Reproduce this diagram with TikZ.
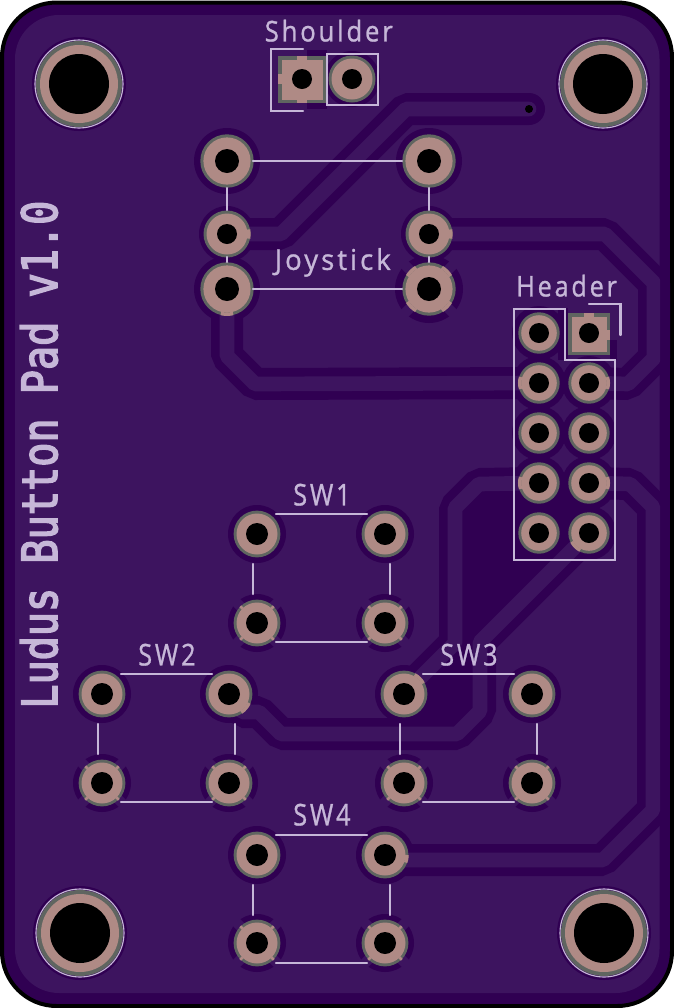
\documentclass[tikz,border=0pt]{standalone}
\usepackage{fontspec}
\setmainfont{Open Sans}
\newfontfamily\silkf[LetterSpace=11,FakeBold=1]{Open Sans}
\newfontfamily\monof[FakeBold=3.5]{DejaVu Sans Mono}
\definecolor{cdark}{HTML}{300052}
\definecolor{cpour}{HTML}{3D145F}
\definecolor{csilk}{HTML}{C6B7D8}
\definecolor{cpadc}{HTML}{AF8A85}
\definecolor{cring}{HTML}{5F6560}
\tikzset{
  silk/.style={draw=csilk,line width=1.7pt,line cap=round,line join=miter},
  tracebed/.style={draw=cdark,line width=24pt,line cap=round,line join=bevel},
  tracetop/.style={draw=cpour,line width=11pt,line cap=round,line join=bevel},
  lab/.style={anchor=south west,inner sep=0pt,text=csilk},
}
% pad: name, outer, inner, hole
\newcommand{\rpad}[4]{%
  \fill[cring] (#1) circle[radius=#2];
  \fill[cpadc] (#1) circle[radius=#3];
  \fill[black] (#1) circle[radius=#4];}
% ring gap: name, angle, half span, radius
\newcommand{\gapr}[4]{%
  \draw[cpadc,line width=2.6pt,line cap=butt] ([shift={(#2-#3:#4)}]#1) arc[start angle=#2-#3,end angle=#2+#3,radius=#4];}
% thermal relief: name, clearance radius
\newcommand{\thermal}[2]{%
  \fill[cdark] (#1) circle[radius=#2];
  \foreach \a in {45,135,225,315} {%
    \draw[cpour,line width=7.5pt,line cap=butt] (#1) -- ([shift={(\a:#2+2)}]#1);}}
\newcommand{\thgaps}[3]{\foreach \a in {45,135,225,315} {\gapr{#1}{\a}{#3}{#2}}}
\newcommand{\swsilk}[2]{%
  \draw[silk] (#1+19,#2-20) -- (#1+110,#2-20);
  \draw[silk] (#1+19,#2+108) -- (#1+110,#2+108);
  \draw[silk] (#1-4,#2+30) -- (#1-4,#2+60);
  \draw[silk] (#1+133,#2+30) -- (#1+133,#2+60);}
\begin{document}
\begin{tikzpicture}[x=0.75pt,y=-0.75pt]
\useasboundingbox (0,0) rectangle (674,1008);
\fill[white] (0,0) rectangle (674,1008);
% board
\draw[fill=cdark,draw=black,line width=3pt,rounded corners=41pt] (2,2.5) rectangle (672,1006);
\fill[cpour,rounded corners=33pt] (15,15) rectangle (659.5,993);
% coordinates
\foreach \n/\x/\y in {
 mA/79/84,mB/603/84,mC/80/933,mD/604/933,
 shA/302/79,shB/352/79,
 jTL/227/161,jTR/429/161,jML/227/234,jMR/429/234,jBL/227/289,jBR/429/289,
 hA/589/333,hB/539/333,hC/539/383,hD/589/383,hE/539/433,hF/589/433,hG/539/483,hH/589/483,hI/539/533,hJ/589/533,
 aTL/257/534,aTR/385/534,aBL/257/623,aBR/385/623,
 bTL/102/694,bTR/229/694,bBL/102/783,bBR/229/783,
 cTL/404/694,cTR/532/694,cBL/404/783,cBR/532/783,
 dTL/257/855,dTR/385/855,dBL/257/943,dBR/385/943}
  {\coordinate (\n) at (\x,\y);}
% isolated island
\fill[cdark] (479,484) -- (455,508) -- (455,643) -- (405,693) -- (405,734) -- (457,734) -- (480,711) -- (480,642) -- (hJ) -- (hH) -- cycle;
% thermals
\thermal{jBR}{34}
\foreach \n in {aBL,aBR,bBL,bBR,cBL,cBR,dBL,dBR} {\thermal{\n}{29}}
% clearances
\foreach \n/\r in {mA/47,mB/47,mC/47,mD/47,jTL/33,jTR/33,jBL/33,jML/28,jMR/28,shB/28,
  hB/27,hC/27,hD/27,hE/27,hF/27,hG/27,hH/27,hI/27,hJ/27,
  aTL/29,aTR/29,bTL/29,bTR/29,cTL/29,cTR/29,dTL/29,dTR/29}
  {\fill[cdark] (\n) circle[radius=\r];}
\fill[cdark] (307,50) rectangle (327,109);
\fill[cdark] (558,308) rectangle (568,360);
\fill[cdark] (610,340) rectangle (617,360);
% traces
\newcommand{\traceA}{(jML) -- (281,234) -- (406,109) -- (529,109)}
\newcommand{\traceB}{(jMR) -- (605,234) -- (654,283) -- (654,358) -- (628,384) -- (hD)}
\newcommand{\traceC}{(jBL) -- (227,356) -- (255,384) -- (hC)}
\newcommand{\traceD}{(hH) -- (630,484) -- (653,507) -- (653,810) -- (603,860) -- (385,860) -- (dTR)}
\newcommand{\traceE}{(hG) -- (479,484) -- (455,508) -- (455,643) -- (cTL)}
\newcommand{\traceF}{(hJ) -- (480,642) -- (480,711) -- (457,734) -- (281,734) -- (259,712) -- (242,712) -- (bTR)}
\draw[tracebed] \traceA; \draw[tracebed] \traceB; \draw[tracebed] \traceC;
\draw[tracebed] \traceD; \draw[tracebed] \traceE; \draw[tracebed] \traceF;
\begin{scope}
\clip (15,15) rectangle (660,993);
\draw[tracetop] \traceA; \draw[tracetop] \traceB; \draw[tracetop] \traceC;
\draw[tracetop] \traceD; \draw[tracetop] \traceE; \draw[tracetop] \traceF;
\end{scope}
% via at trace end
\fill[black] (529,109) circle[radius=4];
% pads
\foreach \n in {mA,mB,mC,mD} {\rpad{\n}{43}{39}{30}}
\foreach \n in {jTL,jTR,jBL,jBR} {\rpad{\n}{26.7}{23.6}{12}}
\foreach \n in {jML,jMR,shB} {\rpad{\n}{23.5}{20.5}{10}}
\foreach \n in {hB,hC,hD,hE,hF,hG,hH,hI,hJ} {\rpad{\n}{20.7}{17.8}{10}}
\foreach \n in {aTL,aTR,aBL,aBR,bTL,bTR,bBL,bBR,cTL,cTR,cBL,cBR,dTL,dTR,dBL,dBR} {\rpad{\n}{23.4}{20.5}{11}}
% square pads
\fill[cring] (278,56) rectangle (326,103);
\fill[cpadc] (281.5,59.5) rectangle (322.5,99.5);
\fill[cpadc] (297,56) rectangle (307,60);
\fill[cpadc] (278,74) rectangle (282,84);
\fill[cpadc] (297,99) rectangle (307,103);
\fill[black] (shA) circle[radius=10];
\fill[cring] (568,313) rectangle (610,355);
\fill[cpadc] (571.5,316.5) rectangle (607,352);
\fill[cpadc] (584,313) rectangle (594,317);
\fill[cpadc] (606,330) rectangle (610,340);
\fill[black] (hA) circle[radius=10];
% ring gaps
\thgaps{jBR}{25.2}{14}
\foreach \n in {aBL,aBR,bBL,bBR,cBL,cBR,dBL,dBR} {\thgaps{\n}{22}{3.5}}
\gapr{jML}{0}{12}{22}
\gapr{jMR}{0}{12}{22}
\gapr{jBL}{90}{14}{25.2}
\gapr{bTR}{40}{16}{22}
\gapr{cTL}{315}{16}{22}
\gapr{dTR}{10}{10}{22}
\gapr{hC}{180}{18}{19.3}
\gapr{hD}{0}{18}{19.3}
\gapr{hG}{180}{18}{19.3}
\gapr{hH}{0}{18}{19.3}
\gapr{hJ}{135}{18}{19.3}
% silk: mounting rings
\foreach \n in {mA,mB,mC,mD} {\draw[csilk,line width=0.85pt] (\n) circle[radius=44];}
% silk: shoulder
\draw[silk] (303,49) -- (271,49) -- (271,111) -- (303,111);
\draw[silk] (327,54) rectangle (378,105);
% silk: joystick
\draw[silk] (253,161) -- (402,161);
\draw[silk] (253,289) -- (402,289);
\draw[silk] (227,188) -- (227,210);
\draw[silk] (227,257) -- (227,262);
\draw[silk] (429,188) -- (429,210);
\draw[silk] (429,257) -- (429,262);
% silk: header
\draw[silk] (514,309) -- (565,309) -- (565,360) -- (615,360) -- (615,560) -- (514,560) -- cycle;
\draw[silk] (589,304) -- (620.5,304) -- (620.5,335);
% silk: switches
\swsilk{257}{534}
\swsilk{102}{694}
\swsilk{404}{694}
\swsilk{257}{855}
% labels
\node[lab] (lshoulder) at (264.5,42) {\resizebox{96pt}{16.3pt}{\silkf Shoulder}};
\node[lab] (ljoystick) at (274.5,277) {\resizebox{87pt}{16.3pt}{\silkf Joystick}};
\node[lab] (lheader) at (516,297) {\resizebox{75.5pt}{16.3pt}{\silkf Header}};
\node[lab] (lsw1) at (293,506) {\resizebox{43pt}{16.3pt}{\silkf SW1}};
\node[lab] (lsw2) at (138,666) {\resizebox{43pt}{16.3pt}{\silkf SW2}};
\node[lab] (lsw3) at (440,666) {\resizebox{43pt}{16.3pt}{\silkf SW3}};
\node[lab] (lsw4) at (293,826) {\resizebox{43pt}{16.3pt}{\silkf SW4}};
\node[lab,rotate=90] (ltitle) at (58,709) {\resizebox{381pt}{27.7pt}{\monof Ludus Button Pad v1.0}};
\end{tikzpicture}
\end{document}
